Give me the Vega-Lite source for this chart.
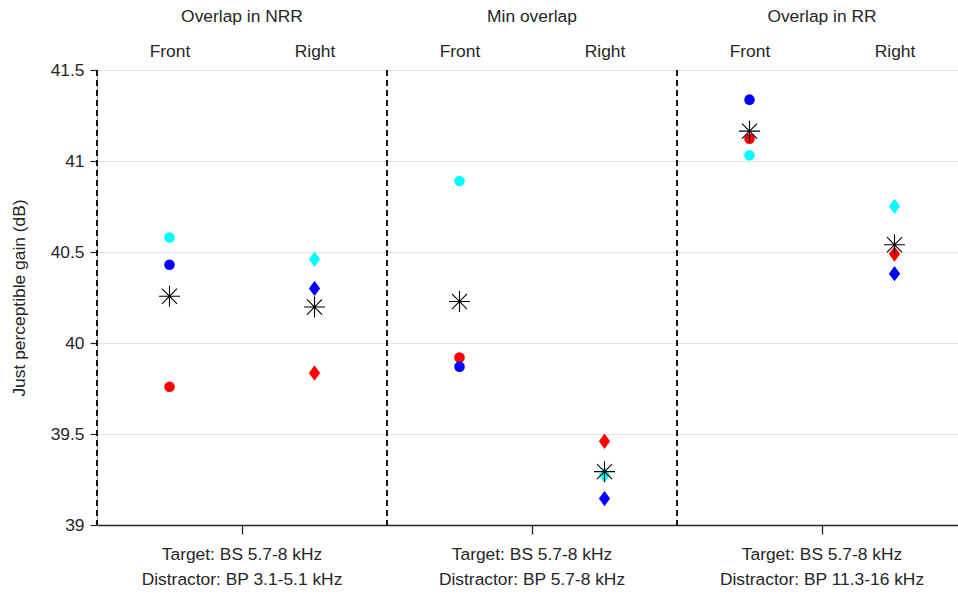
{
  "$schema": "https://vega.github.io/schema/vega-lite/v6.json",
  "width": 860,
  "height": 455,
  "autosize": "none",
  "padding": {"left": 97, "top": 70, "right": 1, "bottom": 69},
  "config": {
    "view": {"stroke": null},
    "font": "Liberation Sans",
    "axis": {
      "labelFont": "Liberation Sans",
      "titleFont": "Liberation Sans",
      "labelFontSize": 17.4,
      "titleFontSize": 17.4,
      "labelColor": "#262626",
      "titleColor": "#262626",
      "titleFontWeight": "normal"
    }
  },
  "datasets": {
    "groups": [
      {"cond": "Overlap in NRR", "setup": "Target: BS 5.7-8 kHz|Distractor: BP 3.1-5.1 kHz"},
      {"cond": "Min overlap", "setup": "Target: BS 5.7-8 kHz|Distractor: BP 5.7-8 kHz"},
      {"cond": "Overlap in RR", "setup": "Target: BS 5.7-8 kHz|Distractor: BP 11.3-16 kHz"}
    ],
    "points": [
      {"slot": "Overlap in NRR|Front", "dir": "Front", "listener": "C", "gain": 39.76},
      {"slot": "Overlap in NRR|Front", "dir": "Front", "listener": "A", "gain": 40.58},
      {"slot": "Overlap in NRR|Front", "dir": "Front", "listener": "B", "gain": 40.43},
      {"slot": "Overlap in NRR|Right", "dir": "Right", "listener": "C", "gain": 39.835},
      {"slot": "Overlap in NRR|Right", "dir": "Right", "listener": "A", "gain": 40.46},
      {"slot": "Overlap in NRR|Right", "dir": "Right", "listener": "B", "gain": 40.30},
      {"slot": "Min overlap|Front", "dir": "Front", "listener": "C", "gain": 39.92},
      {"slot": "Min overlap|Front", "dir": "Front", "listener": "A", "gain": 40.89},
      {"slot": "Min overlap|Front", "dir": "Front", "listener": "B", "gain": 39.87},
      {"slot": "Min overlap|Right", "dir": "Right", "listener": "C", "gain": 39.46},
      {"slot": "Min overlap|Right", "dir": "Right", "listener": "A", "gain": 39.275},
      {"slot": "Min overlap|Right", "dir": "Right", "listener": "B", "gain": 39.145},
      {"slot": "Overlap in RR|Front", "dir": "Front", "listener": "C", "gain": 41.122},
      {"slot": "Overlap in RR|Front", "dir": "Front", "listener": "A", "gain": 41.031},
      {"slot": "Overlap in RR|Front", "dir": "Front", "listener": "B", "gain": 41.337},
      {"slot": "Overlap in RR|Right", "dir": "Right", "listener": "C", "gain": 40.489},
      {"slot": "Overlap in RR|Right", "dir": "Right", "listener": "A", "gain": 40.751},
      {"slot": "Overlap in RR|Right", "dir": "Right", "listener": "B", "gain": 40.381}
    ],
    "means": [
      {"slot": "Overlap in NRR|Front", "gain": 40.257},
      {"slot": "Overlap in NRR|Right", "gain": 40.198},
      {"slot": "Min overlap|Front", "gain": 40.228},
      {"slot": "Min overlap|Right", "gain": 39.293},
      {"slot": "Overlap in RR|Front", "gain": 41.164},
      {"slot": "Overlap in RR|Right", "gain": 40.540}
    ]
  },
  "layer": [
    {
      "data": {"name": "groups"},
      "mark": {"type": "rule", "strokeDash": [6, 4], "strokeWidth": 1.8, "color": "#000000"},
      "encoding": {
        "x": {
          "field": "cond",
          "type": "nominal",
          "sort": null,
          "bandPosition": 0,
          "scale": {"type": "band", "domain": ["Overlap in NRR", "Min overlap", "Overlap in RR"], "range": [0, 870], "paddingInner": 0, "paddingOuter": 0},
          "axis": {"orient": "top", "offset": 36, "domain": false, "ticks": false, "grid": false, "labelPadding": 9, "labelAngle": 0, "labelLimit": 400, "labelOverlap": false, "title": null}
        }
      }
    },
    {
      "data": {"name": "groups"},
      "mark": {"type": "rule", "strokeOpacity": 0},
      "encoding": {
        "x": {
          "field": "setup",
          "type": "nominal",
          "sort": null,
          "bandPosition": 0,
          "scale": {"type": "band", "domain": ["Target: BS 5.7-8 kHz|Distractor: BP 3.1-5.1 kHz", "Target: BS 5.7-8 kHz|Distractor: BP 5.7-8 kHz", "Target: BS 5.7-8 kHz|Distractor: BP 11.3-16 kHz"], "range": [0, 870], "paddingInner": 0, "paddingOuter": 0},
          "axis": {"orient": "bottom", "domain": true, "domainColor": "#262626", "domainWidth": 1.3, "ticks": true, "tickSize": 9, "tickColor": "#262626", "tickWidth": 1.3, "bandPosition": 0.5, "labelExpr": "split(datum.label, '|')", "labelLineHeight": 25, "labelPadding": 11, "labelAngle": 0, "labelLimit": 400, "labelOverlap": false, "grid": false, "title": null}
        }
      }
    },
    {
      "data": {"name": "points"},
      "mark": {"type": "point", "filled": true, "opacity": 1},
      "encoding": {
        "x": {
          "field": "slot",
          "type": "nominal",
          "sort": null,
          "scale": {"type": "point", "domain": ["Overlap in NRR|Front", "Overlap in NRR|Right", "Min overlap|Front", "Min overlap|Right", "Overlap in RR|Front", "Overlap in RR|Right"], "range": [0, 870], "padding": 0.5},
          "axis": {"orient": "top", "domain": false, "ticks": false, "grid": false, "labelPadding": 10, "labelAngle": 0, "labelOverlap": false, "labelExpr": "split(datum.label, '|')[1]", "title": null}
        },
        "y": {
          "field": "gain",
          "type": "quantitative",
          "scale": {"domain": [39, 41.5], "nice": false, "zero": false},
          "axis": {"values": [39, 39.5, 40, 40.5, 41, 41.5], "format": "~g", "grid": true, "gridColor": "#e3e3e3", "gridWidth": 1.2, "domain": true, "domainColor": "#aaaaaa", "tickSize": 7, "tickColor": "#262626", "tickWidth": 1.2, "labelPadding": 6, "title": "Just perceptible gain (dB)", "titlePadding": 22}
        },
        "color": {"field": "listener", "type": "nominal", "scale": {"domain": ["A", "B", "C"], "range": ["#00FFFF", "#0000FF", "#FF0000"]}, "legend": null},
        "shape": {"field": "dir", "type": "nominal", "scale": {"domain": ["Front", "Right"], "range": ["circle", "M0,-1L0.73,0L0,1L-0.73,0Z"]}, "legend": null},
        "size": {"field": "dir", "type": "ordinal", "scale": {"domain": ["Front", "Right"], "range": [112, 235]}, "legend": null}
      }
    },
    {
      "data": {"name": "means"},
      "mark": {"type": "point", "shape": "M-1,0L1,0M0,-1L0,1M-0.72,-0.72L0.72,0.72M-0.72,0.72L0.72,-0.72", "size": 441, "filled": false, "color": "#000000", "strokeWidth": 1.1, "opacity": 1},
      "encoding": {
        "x": {
          "field": "slot",
          "type": "nominal",
          "sort": null,
          "scale": {"type": "point", "domain": ["Overlap in NRR|Front", "Overlap in NRR|Right", "Min overlap|Front", "Min overlap|Right", "Overlap in RR|Front", "Overlap in RR|Right"], "range": [0, 870], "padding": 0.5},
          "axis": null
        },
        "y": {
          "field": "gain",
          "type": "quantitative",
          "scale": {"domain": [39, 41.5], "nice": false, "zero": false},
          "axis": {"values": [39, 39.5, 40, 40.5, 41, 41.5], "format": "~g", "grid": true, "gridColor": "#e3e3e3", "gridWidth": 1.2, "domain": true, "domainColor": "#aaaaaa", "tickSize": 7, "tickColor": "#262626", "tickWidth": 1.2, "labelPadding": 6, "title": "Just perceptible gain (dB)", "titlePadding": 22}
        }
      }
    }
  ],
  "resolve": {"scale": {"x": "independent"}}
}
